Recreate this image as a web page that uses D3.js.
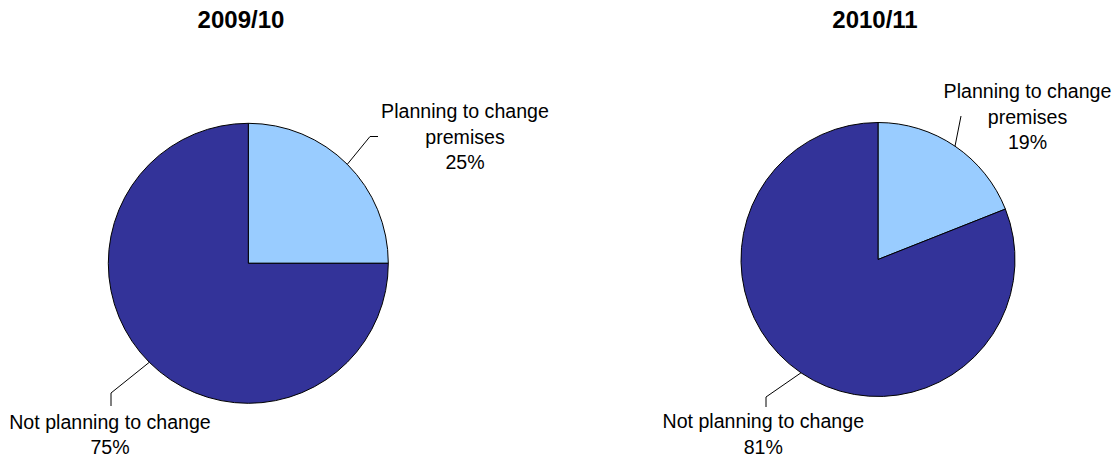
<!DOCTYPE html>
<html>
<head>
<meta charset="utf-8">
<script src="https://cdn.jsdelivr.net/npm/d3@7"></script>
<style>
  html, body { margin: 0; padding: 0; background: #fff; }
  svg { display: block; font-family: "Liberation Sans", Arial, sans-serif; }
</style>
</head>
<body>
<svg id="chart" width="1112" height="459"></svg>
<script>
// Survey years, one pie per year
const years = ["2009/10", "2010/11"];
// Slice categories, in clockwise order from 12 o'clock
const categories = ["Planning to change premises", "Not planning to change"];
// Share of respondents (%) per year
const planningToChange = [25, 19];
const notPlanningToChange = [75, 81];

const colors = d3.scaleOrdinal().domain(categories).range(["#99CCFF", "#333399"]);

// Placement of each pie and its two callouts
const layout = [
  {
    cx: 248.3, cy: 263.3, r: 140, titleX: 241,
    labels: [
      { x: 465, y: 118.3, lines: ["Planning to change", "premises"], leader: [[370, 136.5], [378, 136.5]] },
      { x: 110, y: 429, lines: ["Not planning to change"], leader: [[111, 393], [111, 406]] }
    ]
  },
  {
    cx: 878, cy: 259.5, r: 137, titleX: 875,
    labels: [
      { x: 1027.5, y: 98.3, lines: ["Planning to change", "premises"], leader: [[961, 116]] },
      { x: 763.3, y: 428.3, lines: ["Not planning to change"], leader: [[766, 397], [766, 407]] }
    ]
  }
];

const svg = d3.select("#chart");
const pie = d3.pie().sort(null).value(d => d.value);
const lineGap = 25.3;

years.forEach((year, i) => {
  const L = layout[i];
  const data = categories.map((c, k) => ({
    category: c,
    value: k === 0 ? planningToChange[i] : notPlanningToChange[i]
  }));
  const arcs = pie(data);
  const arc = d3.arc().innerRadius(0).outerRadius(L.r);

  // Year heading
  svg.append("text")
    .attr("x", L.titleX).attr("y", 28.3)
    .attr("text-anchor", "middle")
    .attr("font-weight", "bold")
    .attr("font-size", 24)
    .attr("fill", "#000")
    .text(year);

  const g = svg.append("g").attr("transform", `translate(${L.cx},${L.cy})`);

  g.selectAll("path")
    .data(arcs)
    .join("path")
    .attr("d", arc)
    .attr("fill", d => colors(d.data.category))
    .attr("stroke", "#000")
    .attr("stroke-width", 1)
    .attr("stroke-linejoin", "round");

  // Callouts: leader from the slice's mid-angle on the rim, then the text
  arcs.forEach((a, k) => {
    const lab = L.labels[k];
    const mid = (a.startAngle + a.endAngle) / 2;
    const sx = L.cx + Math.sin(mid) * L.r;
    const sy = L.cy - Math.cos(mid) * L.r;
    const pts = [[sx, sy]].concat(lab.leader);

    svg.append("path")
      .attr("d", d3.line()(pts))
      .attr("fill", "none")
      .attr("stroke", "#000")
      .attr("stroke-width", 1);

    const lines = lab.lines.concat([a.data.value + "%"]);
    const t = svg.append("text")
      .attr("text-anchor", "middle")
      .attr("font-size", 19.6)
      .attr("fill", "#000");
    lines.forEach((s, j) => {
      t.append("tspan")
        .attr("x", lab.x)
        .attr("y", lab.y + j * lineGap)
        .text(s);
    });
  });
});
</script>
</body>
</html>
